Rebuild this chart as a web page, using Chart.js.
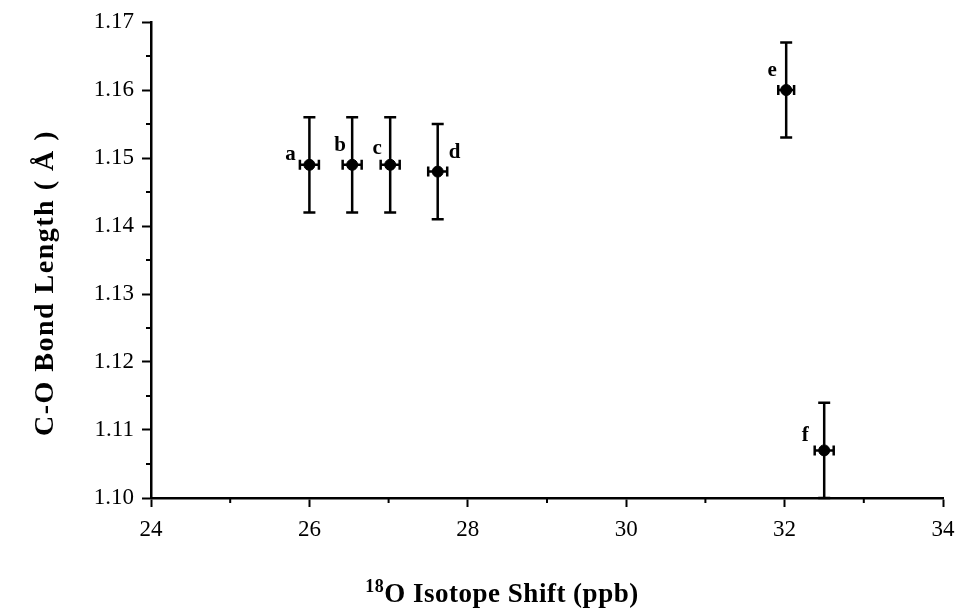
<!DOCTYPE html>
<html>
<head>
<meta charset="utf-8">
<script src="https://cdn.jsdelivr.net/npm/chart.js@4.4.1/dist/chart.umd.min.js"></script>
<style>
  html, body { margin: 0; padding: 0; background: #fff; }
  #wrap { width: 956px; height: 612px; }
</style>
</head>
<body>
<div id="wrap"><canvas id="chart" width="956" height="612"></canvas></div>
<script>
// values
const pointLabels = ['a', 'b', 'c', 'd', 'e', 'f'];
const isotopeShift = [26.0, 26.54, 27.02, 27.62, 32.02, 32.5];
const bondLength = [1.149, 1.149, 1.149, 1.148, 1.160, 1.107];
const shiftError = [0.12, 0.12, 0.12, 0.12, 0.1, 0.12];
const lengthError = [0.007, 0.007, 0.007, 0.007, 0.007, 0.007];
const xTicks = [24, 26, 28, 30, 32, 34];
const yTicks = [1.10, 1.11, 1.12, 1.13, 1.14, 1.15, 1.16, 1.17];

// where each letter sits relative to its point (px)
const labelOffsets = [[-19, -10], [-12, -19], [-13, -16], [17, -19], [-14, -19], [-19, -15]];

const serif = "'Liberation Serif', 'Times New Roman', serif";

const errorBars = {
  id: 'errorBars',
  beforeDatasetsDraw(chart) {
    const { ctx, scales: { x, y } } = chart;
    ctx.save();
    ctx.strokeStyle = '#000';
    ctx.lineWidth = 2.5;
    isotopeShift.forEach((sx, i) => {
      const px = x.getPixelForValue(sx);
      const py = y.getPixelForValue(bondLength[i]);
      const top = y.getPixelForValue(Math.min(bondLength[i] + lengthError[i], y.max));
      const bot = y.getPixelForValue(Math.max(bondLength[i] - lengthError[i], y.min));
      const left = x.getPixelForValue(sx - shiftError[i]);
      const right = x.getPixelForValue(sx + shiftError[i]);
      ctx.beginPath();
      ctx.moveTo(px, top); ctx.lineTo(px, bot);
      ctx.moveTo(px - 6, top); ctx.lineTo(px + 6, top);
      ctx.moveTo(px - 6, bot); ctx.lineTo(px + 6, bot);
      ctx.moveTo(left, py); ctx.lineTo(right, py);
      ctx.moveTo(left, py - 5); ctx.lineTo(left, py + 5);
      ctx.moveTo(right, py - 5); ctx.lineTo(right, py + 5);
      ctx.stroke();
    });
    ctx.restore();
  },
  afterDraw(chart) {
    const { ctx, scales: { x, y } } = chart;
    ctx.save();
    // minor ticks
    ctx.strokeStyle = '#000';
    ctx.lineWidth = 2;
    ctx.beginPath();
    for (let v = 25; v < 34; v += 2) {
      const px = x.getPixelForValue(v);
      ctx.moveTo(px, y.bottom); ctx.lineTo(px, y.bottom + 5);
    }
    for (let k = 0; k < 7; k++) {
      const py = y.getPixelForValue(1.105 + k * 0.01);
      ctx.moveTo(x.left, py); ctx.lineTo(x.left - 5, py);
    }
    ctx.stroke();

    // point letters
    ctx.fillStyle = '#000';
    ctx.font = 'bold 21px ' + serif;
    ctx.textAlign = 'center';
    ctx.textBaseline = 'middle';
    pointLabels.forEach((t, i) => {
      const px = x.getPixelForValue(isotopeShift[i]) + labelOffsets[i][0];
      const py = y.getPixelForValue(bondLength[i]) + labelOffsets[i][1];
      ctx.fillText(t, px, py);
    });

    // x axis title with superscript 18
    ctx.textAlign = 'left';
    ctx.textBaseline = 'alphabetic';
    ctx.letterSpacing = '0.5px';
    const main = 'O Isotope Shift (ppb)';
    ctx.font = 'bold 18px ' + serif;
    const supW = ctx.measureText('18').width;
    ctx.font = 'bold 27px ' + serif;
    const mainW = ctx.measureText(main).width;
    const startX = 502 - (supW + mainW) / 2;
    ctx.font = 'bold 18px ' + serif;
    ctx.fillText('18', startX, 592);
    ctx.font = 'bold 27px ' + serif;
    ctx.fillText(main, startX + supW, 602);

    // y axis title
    ctx.letterSpacing = '1.5px';
    ctx.translate(46, 283);
    ctx.rotate(-Math.PI / 2);
    ctx.textAlign = 'center';
    ctx.textBaseline = 'middle';
    ctx.font = 'bold 28px ' + serif;
    ctx.fillText('C-O Bond Length ( Å )', 0, 0);
    ctx.restore();
  }
};

new Chart(document.getElementById('chart'), {
  type: 'scatter',
  data: {
    datasets: [{
      data: isotopeShift.map((v, i) => ({ x: v, y: bondLength[i] })),
      backgroundColor: '#000',
      borderColor: '#000',
      pointRadius: 5.5,
      pointHoverRadius: 5.5
    }]
  },
  options: {
    responsive: false,
    animation: false,
    devicePixelRatio: 1,
    layout: { padding: { left: 0, top: 22, right: 13, bottom: 0 } },
    plugins: { legend: { display: false }, tooltip: { enabled: false } },
    scales: {
      x: {
        type: 'linear',
        min: xTicks[0],
        max: xTicks[xTicks.length - 1],
        afterBuildTicks: s => { s.ticks = xTicks.map(v => ({ value: v })); },
        afterFit: s => { s.height = 114; s.paddingLeft = 0; s.paddingRight = 0; },
        grid: { drawOnChartArea: false, tickLength: 9, tickColor: '#000', tickWidth: 2 },
        border: { color: '#000', width: 2.5 },
        ticks: { color: '#000', font: { family: serif, size: 23 }, padding: 9, maxRotation: 0 }
      },
      y: {
        type: 'linear',
        min: yTicks[0],
        max: yTicks[yTicks.length - 1],
        afterBuildTicks: s => { s.ticks = yTicks.map(v => ({ value: v })); },
        afterFit: s => { s.width = 151; s.paddingTop = 0; s.paddingBottom = 0; },
        grid: { drawOnChartArea: false, tickLength: 9, tickColor: '#000', tickWidth: 2 },
        border: { color: '#000', width: 2.5 },
        ticks: { color: '#000', font: { family: serif, size: 23 }, padding: 8,
                 callback: v => v.toFixed(2) }
      }
    }
  },
  plugins: [errorBars]
});
</script>
</body>
</html>
